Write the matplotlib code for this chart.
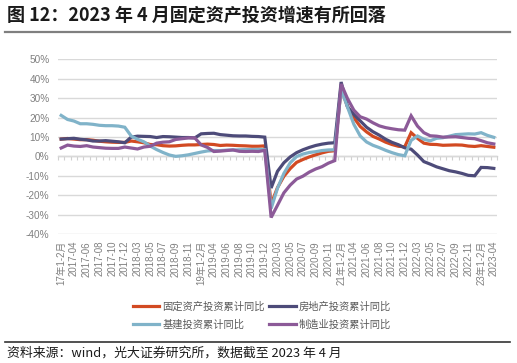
import matplotlib
matplotlib.use("Agg")
import matplotlib.pyplot as plt
import numpy as np
from matplotlib.lines import Line2D

# ---------------- data ----------------
years = [2017, 2018, 2019, 2020, 2021, 2022, 2023]
months = ["1-2", "03", "04", "05", "06", "07", "08", "09", "10", "11", "12"]
categories = []
for y in years:
    ms = months if y < 2023 else months[:3]
    for m in ms:
        if m == "1-2":
            categories.append(f"{str(y)[2:]}年1-2月")
        else:
            categories.append(f"{y}-{m}")

fai = [8.9, 9.2, 8.9, 8.6, 8.6, 8.3, 7.8, 7.5, 7.3, 7.2, 7.2,
       7.9, 7.5, 7.0, 6.1, 6.0, 5.5, 5.3, 5.4, 5.7, 5.9, 5.9,
       6.1, 6.3, 6.1, 5.6, 5.8, 5.7, 5.5, 5.4, 5.2, 5.2, 5.4,
       -24.5, -16.1, -10.3, -6.3, -3.1, -1.6, -0.3, 0.8, 1.8, 2.6, 2.9,
       35.0, 25.6, 19.9, 15.4, 12.6, 10.3, 8.9, 7.3, 6.1, 5.2, 4.9,
       12.2, 9.3, 6.8, 6.2, 6.1, 5.7, 5.8, 5.9, 5.8, 5.3, 5.1,
       5.5, 5.1, 4.7]

realestate = [8.9, 9.1, 9.3, 8.8, 8.5, 7.9, 7.9, 8.1, 7.8, 7.5, 7.0,
              9.9, 10.4, 10.3, 10.2, 9.7, 10.2, 10.1, 9.9, 9.7, 9.7, 9.5,
              11.6, 11.8, 11.9, 11.2, 10.9, 10.6, 10.5, 10.5, 10.3, 10.2, 9.9,
              -16.3, -7.7, -3.3, -0.3, 1.9, 3.4, 4.6, 5.6, 6.3, 6.8, 7.0,
              38.3, 25.6, 21.6, 18.3, 15.0, 12.7, 10.9, 8.8, 7.2, 6.0, 4.4,
              3.7, 0.7, -2.7, -4.0, -5.4, -6.4, -7.4, -8.0, -8.8, -9.8, -10.0,
              -5.7, -5.8, -6.2]

infra = [21.1, 19.0, 18.2, 16.8, 16.8, 16.5, 16.0, 15.8, 15.8, 15.6, 15.0,
         10.5, 8.8, 7.5, 5.3, 3.5, 2.0, 0.7, 0.0, 0.3, 0.8, 1.5,
         2.2, 2.8, 3.0, 3.0, 3.2, 3.3, 3.4, 3.5, 3.5, 3.6, 3.5,
         -26.9, -16.4, -8.8, -3.3, -0.1, 1.2, 2.0, 2.4, 3.0, 3.3, 3.4,
         34.5, 25.4, 16.5, 10.5, 7.4, 5.7, 4.5, 3.1, 1.9, 0.9, 0.3,
         8.2, 10.5, 8.8, 8.0, 9.3, 9.6, 10.4, 11.2, 11.4, 11.6, 11.5,
         12.2, 10.8, 9.8]

manuf = [4.3, 5.8, 5.3, 5.1, 5.5, 4.8, 4.5, 4.2, 4.1, 4.1, 4.8,
         4.3, 3.8, 4.8, 5.2, 6.8, 7.3, 7.5, 8.7, 9.1, 9.5, 9.5,
         5.9, 4.6, 2.5, 2.7, 3.0, 3.3, 2.6, 2.5, 2.6, 2.5, 3.1,
         -31.5, -25.2, -18.8, -14.8, -11.7, -10.2, -8.1, -6.5, -5.3, -3.5, -2.2,
         37.3, 29.8, 23.8, 20.4, 19.2, 17.3, 15.7, 14.8, 14.2, 13.7, 13.5,
         20.9, 15.6, 12.2, 10.6, 10.4, 9.9, 10.0, 10.1, 9.7, 9.3, 9.1,
         8.1, 7.0, 6.4]

series_names = ["固定资产投资累计同比", "房地产投资累计同比", "基建投资累计同比", "制造业投资累计同比"]
series_colors = ["#D24A22", "#4D4B79", "#80B3C9", "#8C5A98"]
yticks = [-40, -30, -20, -10, 0, 10, 20, 30, 40, 50]

title = "图 12：2023 年 4 月固定资产投资增速有所回落"
source = "资料来源：wind，光大证券研究所，数据截至 2023 年 4 月"

# ---------------- figure ----------------
W, H = 517, 363
fig = plt.figure(figsize=(W / 100, H / 100), dpi=100)
lab_font = ["Liberation Sans", "Noto Sans CJK SC"]
cjk = ["Noto Sans CJK SC", "DejaVu Sans"]

ax = fig.add_axes([58 / W, 1 - 234 / H, (497 - 58) / W, (234 - 59.3) / H])
x = np.arange(len(categories))
for vals, name, col in zip([fai, realestate, infra, manuf], series_names, series_colors):
    ax.plot(x, vals, color=col, lw=2.3, label=name, solid_joinstyle="miter", zorder=3)

ax.set_xlim(-0.5, len(categories) - 0.5)
ax.set_ylim(-40, 50)
ax.set_yticks(yticks)
ax.set_yticklabels([f"{v}%" for v in yticks], fontfamily=lab_font, fontsize=7.2, color="#808080")
ax.grid(axis="y", color="#D9D9D9", lw=1.0)
ax.set_axisbelow(True)
for s in ax.spines.values():
    s.set_visible(False)
ax.tick_params(axis="y", length=0, pad=6)

ax.set_xticks(x[::2])
ax.set_xticklabels(categories[::2], rotation=90, fontfamily=lab_font, fontsize=7.0,
                   color="#808080", va="top", ha="center")
ax.tick_params(axis="x", length=0, pad=5)

# zero axis with category tick marks
sec = ax.secondary_xaxis(40 / 90)
sec.set_xticks(np.arange(-0.5, len(categories), 1))
sec.set_xticklabels([])
sec.tick_params(axis="x", length=3, color="#D0D0D0", width=0.8, direction="out")
sec.spines["bottom"].set_color("#D0D0D0")
sec.spines["bottom"].set_linewidth(1.0)

# legend
h, l = ax.get_legend_handles_labels()
order = [0, 2, 1, 3]
leg = fig.legend([h[i] for i in order], [l[i] for i in order], ncol=2, loc="center",
                 bbox_to_anchor=(262 / W, 1 - 315.5 / H), frameon=False,
                 prop={"family": cjk, "size": 7.4}, handlelength=2.6, handletextpad=0.3,
                 columnspacing=0.4, labelspacing=0.75)
for t in leg.get_texts():
    t.set_color("#595959")

# title and source
fig.text(7 / W, 1 - 15 / H, title, fontfamily=cjk, fontsize=13, fontweight="bold",
         va="center", ha="left", color="#1A1A1A")
fig.add_artist(Line2D([5 / W, 510 / W], [1 - 32 / H, 1 - 32 / H], color="#7F7F7F", lw=1.6,
                      transform=fig.transFigure))
fig.add_artist(Line2D([5 / W, 510 / W], [1 - 342 / H, 1 - 342 / H], color="#333333", lw=1.2,
                      transform=fig.transFigure))
fig.text(7 / W, 1 - 353 / H, source, fontfamily=cjk, fontsize=9.3, va="center", ha="left",
         color="#1A1A1A")

fig.savefig("out.png", dpi=100)
